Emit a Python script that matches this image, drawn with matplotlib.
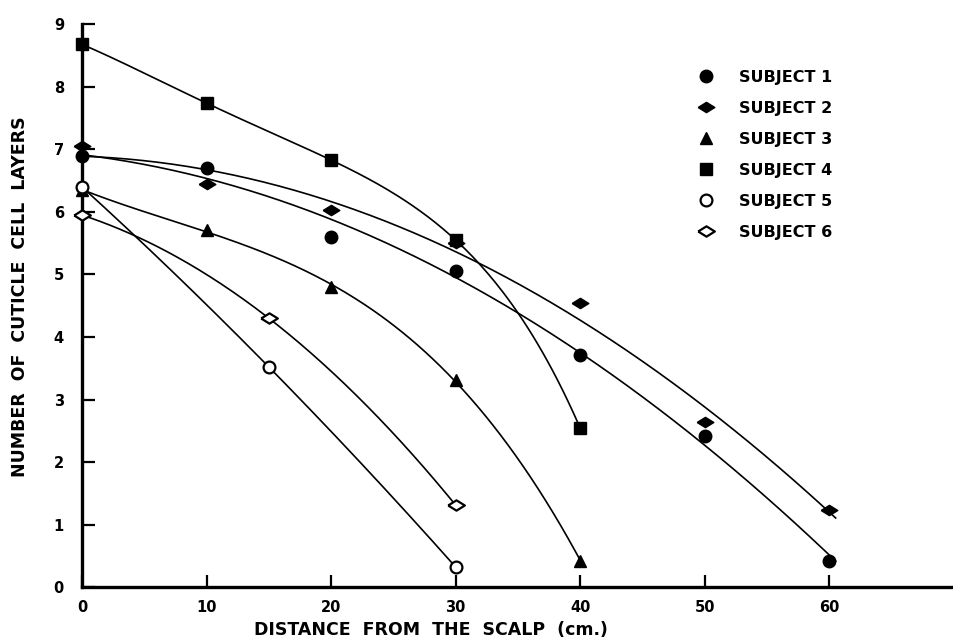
import numpy as np
import matplotlib
matplotlib.use('Agg')
import matplotlib.pyplot as plt

# values
subjects = ["SUBJECT 1", "SUBJECT 2", "SUBJECT 3", "SUBJECT 4", "SUBJECT 5", "SUBJECT 6"]

dist_s1 = [0, 10, 20, 30, 40, 50, 60]
layers_s1 = [6.9, 6.7, 5.6, 5.05, 3.72, 2.42, 0.42]

dist_s2 = [0, 10, 20, 30, 40, 50, 60]
layers_s2 = [7.05, 6.45, 6.03, 5.5, 4.54, 2.64, 1.23]

dist_s3 = [0, 10, 20, 30, 40]
layers_s3 = [6.35, 5.71, 4.8, 3.31, 0.42]

dist_s4 = [0, 10, 20, 30, 40]
layers_s4 = [8.68, 7.74, 6.83, 5.55, 2.54]

dist_s5 = [0, 15, 30]
layers_s5 = [6.4, 3.52, 0.32]

dist_s6 = [0, 15, 30]
layers_s6 = [5.95, 4.3, 1.31]

x_ticks = [0, 10, 20, 30, 40, 50, 60]
y_ticks = [0, 1, 2, 3, 4, 5, 6, 7, 8, 9]

# hand-drawn curves approximated by polynomial fits of these degrees
fit_degree = [2, 2, 3, 4, 2, 2]
curve_end = [60.5, 60.5, 40, 40, 30, 30]

wide_diamond = [(-1, 0), (0, 0.62), (1, 0), (0, -0.62), (-1, 0)]
marker_styles = [
    dict(marker='o', ms=9, mfc='black', mec='black'),
    dict(marker=wide_diamond, ms=12, mfc='black', mec='black'),
    dict(marker='^', ms=9, mfc='black', mec='black'),
    dict(marker='s', ms=8.5, mfc='black', mec='black'),
    dict(marker='o', ms=8.5, mfc='white', mec='black', mew=1.6),
    dict(marker=wide_diamond, ms=12, mfc='white', mec='black', mew=1.6),
]

series = [(dist_s1, layers_s1), (dist_s2, layers_s2), (dist_s3, layers_s3),
          (dist_s4, layers_s4), (dist_s5, layers_s5), (dist_s6, layers_s6)]

plt.rcParams['font.family'] = ['DejaVu Sans']
plt.rcParams['font.weight'] = 'bold'

fig = plt.figure(figsize=(9.54, 6.41), dpi=100)
ax = fig.add_axes([0.086, 0.084, 0.914, 0.878])

handles = []
for i, (xs, ys) in enumerate(series):
    xx = np.linspace(xs[0], curve_end[i], 200)
    yy = np.polyval(np.polyfit(xs, ys, fit_degree[i]), xx)
    ax.plot(xx, yy, color='black', lw=1.2, zorder=2)
    h, = ax.plot(xs, ys, ls='none', clip_on=False, zorder=4,
                 label=subjects[i], **marker_styles[i])
    handles.append(h)

ax.set_xlim(0, 70)
ax.set_ylim(0, 9)
ax.set_xticks(x_ticks)
ax.set_yticks(y_ticks)
ax.spines['top'].set_visible(False)
ax.spines['right'].set_visible(False)
ax.spines['left'].set_linewidth(2.4)
ax.spines['bottom'].set_linewidth(2.4)
ax.tick_params(axis='both', direction='in', length=9, width=1.6,
               labelsize=10.5)
ax.tick_params(axis='y', pad=13)
ax.tick_params(axis='x', pad=9)

ax.set_xlabel("DISTANCE  FROM  THE  SCALP  (cm.)", fontsize=12.5,
              fontweight='bold', va='center')
ax.xaxis.set_label_coords(0.40, -0.076)
ax.set_ylabel("NUMBER  OF  CUTICLE  CELL  LAYERS", fontsize=12.5,
              fontweight='bold', va='center')
ax.yaxis.set_label_coords(-0.071, 0.517)

ax.legend(handles=handles, loc='upper left', bbox_to_anchor=(0.688, 0.945),
          frameon=False, prop=dict(weight='bold', size=11.5),
          labelspacing=1.0, handlelength=1.2, handletextpad=1.5)

fig.savefig('out.png', dpi=100)
